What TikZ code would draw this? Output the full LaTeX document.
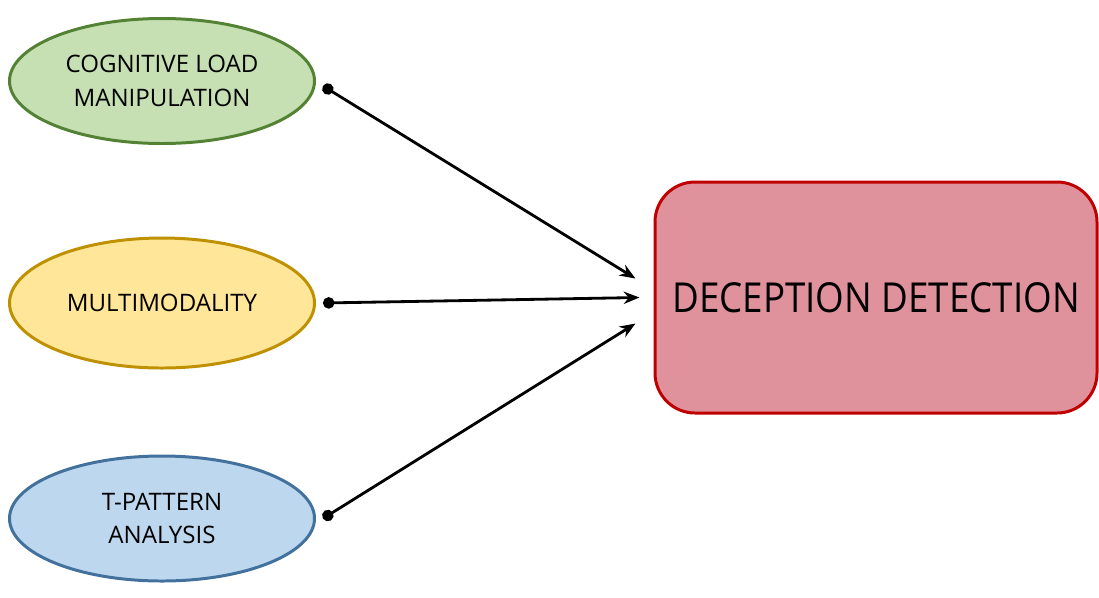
\documentclass[tikz,border=0pt]{standalone}
\usepackage{fontspec}
\setmainfont{Open Sans}
\newfontfamily\ddfont{Open Sans}[FakeStretch=0.89]
\usepackage{tikz}
\usetikzlibrary{arrows.meta,shapes.geometric,calc}
\definecolor{cogfill}{HTML}{C6E0B4}
\definecolor{cogline}{HTML}{548235}
\definecolor{mmfill}{HTML}{FFE699}
\definecolor{mmline}{HTML}{BF9000}
\definecolor{tpfill}{HTML}{BDD7EE}
\definecolor{tpline}{HTML}{41719C}
\definecolor{ddfill}{HTML}{DF919C}
\definecolor{ddline}{HTML}{C00000}

\begin{document}
\begin{tikzpicture}[
  factor/.style={ellipse,line width=1.7pt,minimum width=6.1cm,minimum height=2.5cm,
    inner sep=0pt,align=center,font=\fontsize{13.7}{19}\selectfont},
  target/.style={rectangle,rounded corners=0.8cm,line width=1.7pt,draw=ddline,fill=ddfill,
    minimum width=8.84cm,minimum height=4.62cm,inner sep=0pt,font=\ddfont\fontsize{23.5}{28}\selectfont},
  link/.style={line width=1.6pt,{Circle[length=6.5pt]}-{Stealth[length=9pt,width=7pt]}}]
\useasboundingbox (0,0) rectangle (21.98,-11.94);
\node[factor,draw=cogline,fill=cogfill] (cog) at (3.24,-1.62) {COGNITIVE LOAD\\MANIPULATION};
\node[factor,draw=mmline,fill=mmfill,minimum height=2.6cm] (mm) at (3.24,-6.06) {MULTIMODALITY};
\node[factor,draw=tpline,fill=tpfill] (tp) at (3.24,-10.37) {T-PATTERN\\ANALYSIS};
\node[target] (dd) at (17.52,-5.95) {DECEPTION DETECTION};
\coordinate (cogout) at ($(cog.east)+(0.14,-0.1)$);
\coordinate (mmout) at ($(mm.east)+(0.14,0)$);
\coordinate (tpout) at ($(tp.east)+(0.14,0)$);
\coordinate (ddin1) at ($(dd.west)+(-0.36,0.38)$);
\coordinate (ddin2) at ($(dd.west)+(-0.28,0)$);
\coordinate (ddin3) at ($(dd.west)+(-0.36,-0.52)$);
\draw[link] (cogout) -- (ddin1);
\draw[link] (mmout) -- (ddin2);
\draw[link] (tpout) -- (ddin3);
\end{tikzpicture}
\end{document}
